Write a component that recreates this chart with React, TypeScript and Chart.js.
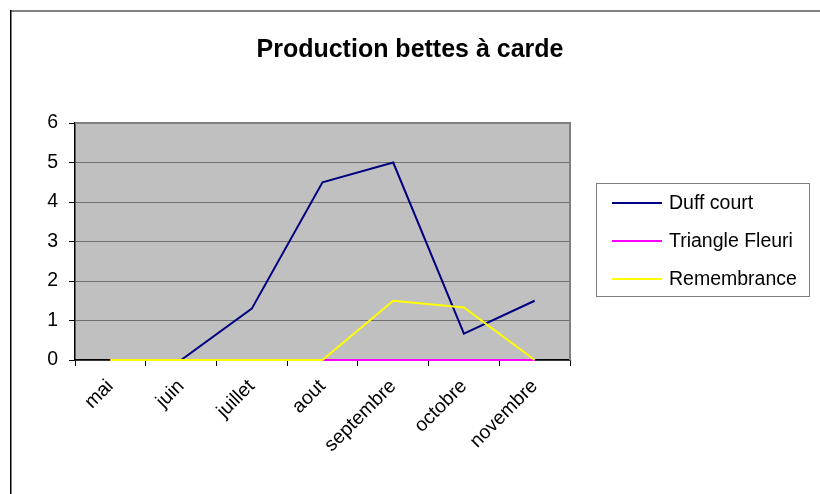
import React, { useEffect, useRef } from 'react';
import { Chart, registerables } from 'chart.js';

Chart.register(...registerables);

const titleText = 'Production bettes à carde';
const categories = ['mai', 'juin', 'juillet', 'aout', 'septembre', 'octobre', 'novembre'];
const duffCourt = [0, 0, 1.3, 4.5, 5, 0.67, 1.5];
const triangleFleuri = [0, 0, 0, 0, 0, 0, 0];
const remembrance = [0, 0, 0, 0, 1.5, 1.33, 0];
const yMin = 0;
const yMax = 6;
const yStep = 1;
const seriesNames = ['Duff court', 'Triangle Fleuri', 'Remembrance'];
const seriesColors = ['#000080', '#FF00FF', '#FFFF00'];

const FONT = "'Liberation Sans', Arial, sans-serif";

const decor = {
  id: 'decor',
  beforeDraw(chart: any) {
    const { ctx, chartArea: a } = chart;
    ctx.save();
    ctx.fillStyle = '#ffffff';
    ctx.fillRect(0, 0, chart.width, chart.height);
    ctx.fillStyle = '#C0C0C0';
    ctx.fillRect(a.left, a.top, a.right - a.left, a.bottom - a.top);
    // outer frame
    ctx.strokeStyle = '#808080';
    ctx.lineWidth = 2;
    ctx.beginPath();
    ctx.moveTo(10, 11);
    ctx.lineTo(chart.width, 11);
    ctx.stroke();
    ctx.strokeStyle = '#000000';
    ctx.lineWidth = 1.5;
    ctx.beginPath();
    ctx.moveTo(10.75, 10);
    ctx.lineTo(10.75, chart.height);
    ctx.stroke();
    // title
    ctx.fillStyle = '#000';
    ctx.font = `bold 25px ${FONT}`;
    ctx.textAlign = 'center';
    ctx.textBaseline = 'middle';
    ctx.fillText(chart.options.plugins.decor.title, 410, 50);
    ctx.restore();
  },
  beforeDatasetsDraw(chart: any) {
    const { ctx, chartArea: a } = chart;
    ctx.save();
    ctx.strokeStyle = '#808080';
    ctx.lineWidth = 2;
    ctx.beginPath();
    ctx.moveTo(a.left, a.top);
    ctx.lineTo(a.right, a.top);
    ctx.lineTo(a.right, a.bottom);
    ctx.stroke();
    ctx.restore();
  },
  afterDraw(chart: any) {
    const { ctx } = chart;
    ctx.save();
    // legend box
    ctx.strokeStyle = '#808080';
    ctx.lineWidth = 1;
    ctx.strokeRect(596.5, 183.5, 213, 113);
    ctx.font = `19.5px ${FONT}`;
    ctx.textBaseline = 'middle';
    ctx.textAlign = 'left';
    chart.data.datasets.forEach((ds: any, i: number) => {
      const y = 203 + i * 38;
      ctx.strokeStyle = ds.borderColor;
      ctx.lineWidth = 2;
      ctx.beginPath();
      ctx.moveTo(612, y);
      ctx.lineTo(662, y);
      ctx.stroke();
      ctx.fillStyle = '#000';
      ctx.fillText(ds.label, 669, y + 1);
    });
    ctx.restore();
  },
};

export default function App() {
  const ref = useRef<HTMLCanvasElement | null>(null);
  useEffect(() => {
    document.body.style.margin = '0';
    const canvas = ref.current!;
    const seriesData = [duffCourt, triangleFleuri, remembrance];
    const chart = new Chart(canvas, {
      type: 'line',
      data: {
        labels: categories,
        datasets: seriesData.map((d, i) => ({
          label: seriesNames[i],
          data: d,
          borderColor: seriesColors[i],
          backgroundColor: seriesColors[i],
          borderWidth: 2,
          pointRadius: 0,
          tension: 0,
          fill: false,
          clip: false as any,
          order: 2 - i,
        })),
      },
      options: {
        responsive: false,
        animation: false,
        devicePixelRatio: 1,
        layout: { padding: { left: 0, right: 250, top: 123, bottom: 0 } },
        plugins: {
          legend: { display: false },
          tooltip: { enabled: false },
          title: { display: false },
          decor: { title: titleText },
        } as any,
        scales: {
          x: {
            offset: true,
            grid: {
              offset: true,
              drawOnChartArea: false,
              drawTicks: true,
              tickLength: 6,
              tickColor: '#000',
            },
            border: { color: '#000', width: 1.5 },
            ticks: {
              color: '#000',
              font: { family: FONT, size: 19.5 },
              minRotation: 45,
              maxRotation: 45,
              padding: 9,
            },
            afterFit(scale: any) {
              scale.height = 134;
            },
          },
          y: {
            min: yMin,
            max: yMax,
            grid: {
              color: '#6e6e6e',
              lineWidth: 1,
              drawTicks: true,
              tickLength: 6,
              tickColor: '#000',
            },
            border: { color: '#000', width: 1.5 },
            ticks: {
              stepSize: yStep,
              color: '#000',
              font: { family: FONT, size: 19.5 },
              padding: 11,
            },
            afterFit(scale: any) {
              scale.width = 75;
            },
          },
        },
      },
      plugins: [decor],
    });
    return () => chart.destroy();
  }, []);
  return (
    <div style={{ width: 820, height: 494 }}>
      <canvas ref={ref} width={820} height={494} style={{ display: 'block' }} />
    </div>
  );
}
